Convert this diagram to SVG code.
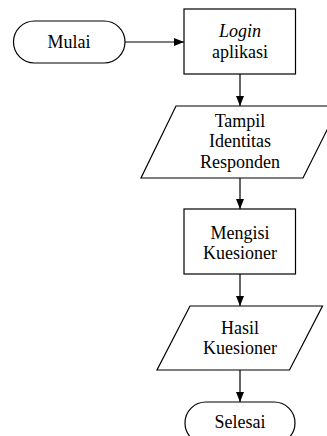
<svg xmlns="http://www.w3.org/2000/svg" width="327" height="436" viewBox="0 0 327 436">
  <defs>
    <marker id="arrow" markerWidth="10" markerHeight="8" refX="10" refY="4" orient="auto" markerUnits="userSpaceOnUse">
      <path d="M0,0 L10,4 L0,8 Z" fill="#000"/>
    </marker>
  </defs>
  <style>
    .shape { fill: #fff; stroke: #000; stroke-width: 1.2; }
    .conn { stroke: #000; stroke-width: 1.2; fill: none; marker-end: url(#arrow); }
    .lbl { font-family: 'Liberation Serif', serif; font-size: 18px; fill: #000; text-anchor: middle; }
    .it { font-style: italic; }
  </style>
  <rect width="327" height="436" fill="#fff"/>

  <g id="connectors">
    <line class="conn" x1="125" y1="42" x2="184" y2="42"/>
    <line class="conn" x1="240" y1="74" x2="240" y2="106"/>
    <line class="conn" x1="240" y1="178" x2="240" y2="209"/>
    <line class="conn" x1="240" y1="274" x2="240" y2="306"/>
    <line class="conn" x1="240" y1="370" x2="240" y2="402"/>
  </g>

  <g id="mulai">
    <rect class="shape" x="13.5" y="21" width="111.5" height="42" rx="21" ry="21"/>
    <text class="lbl" font-family="Liberation Serif, serif" x="69" y="47.5">Mulai</text>
  </g>

  <g id="login">
    <rect class="shape" x="184" y="9" width="111.5" height="65"/>
    <text class="lbl it" font-family="Liberation Serif, serif" x="240" y="37">Login</text>
    <text class="lbl" font-family="Liberation Serif, serif" x="240" y="57.5">aplikasi</text>
  </g>

  <g id="tampil">
    <polygon class="shape" points="176,106 339,106 303,178 141,178"/>
    <text class="lbl" font-family="Liberation Serif, serif" x="240" y="127">Tampil</text>
    <text class="lbl" font-family="Liberation Serif, serif" x="240" y="147">Identitas</text>
    <text class="lbl" font-family="Liberation Serif, serif" x="240" y="168">Responden</text>
  </g>

  <g id="mengisi">
    <rect class="shape" x="184" y="209" width="111.5" height="65"/>
    <text class="lbl" font-family="Liberation Serif, serif" x="240" y="238.5">Mengisi</text>
    <text class="lbl" font-family="Liberation Serif, serif" x="240" y="258.5">Kuesioner</text>
  </g>

  <g id="hasil">
    <polygon class="shape" points="190,306 322.5,306 289.5,370 157,370"/>
    <text class="lbl" font-family="Liberation Serif, serif" x="240" y="333.5">Hasil</text>
    <text class="lbl" font-family="Liberation Serif, serif" x="240" y="354">Kuesioner</text>
  </g>

  <g id="selesai">
    <rect class="shape" x="185" y="402" width="110" height="42" rx="21" ry="21"/>
    <text class="lbl" font-family="Liberation Serif, serif" x="240" y="428">Selesai</text>
  </g>
</svg>
